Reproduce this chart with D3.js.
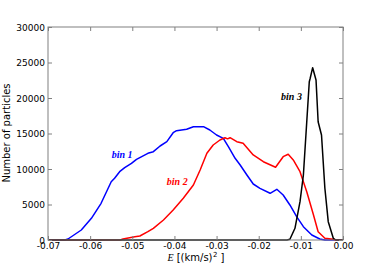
<!DOCTYPE html>
<html><head><meta charset="utf-8">
<script src="https://cdn.jsdelivr.net/npm/d3@7"></script>
<style>body{margin:0;background:#fff}svg{display:block}</style>
</head><body>
<svg id="c" width="382" height="267"></svg>
<script>
const xTicks = [-0.07,-0.06,-0.05,-0.04,-0.03,-0.02,-0.01,0.00];
const yTicks = [0,5000,10000,15000,20000,25000,30000];
const bin1E = [-0.070,-0.0660,-0.06525,-0.0621,-0.0597,-0.0574,-0.0550,-0.0542,-0.0530,-0.0518,-0.0502,-0.0490,-0.0463,-0.0450,-0.0434,-0.0418,-0.0403,-0.0395,-0.0371,-0.0355,-0.0331,-0.0316,-0.0300,-0.0284,-0.0272,-0.0256,-0.0244,-0.0228,-0.0213,-0.0197,-0.0173,-0.0157,-0.0142,-0.0126,-0.0110,-0.0094,-0.0074,-0.0055,-0.0043,0.0];
const bin1N = [0,0,141,1408,3056,5169,8204,8690,9620,10183,10803,11366,12211,12437,13240,13846,15113,15395,15592,15958,15958,15494,14789,14324,13141,11507,10564,9155,7888,7282,6578,7141,6338,4930,3282,1873,704,141,0,0];
const bin2E = [-0.070,-0.0529,-0.0522,-0.0494,-0.0482,-0.0463,-0.0450,-0.0426,-0.0403,-0.0379,-0.0355,-0.0339,-0.0323,-0.0308,-0.0292,-0.0280,-0.0274,-0.0268,-0.0252,-0.0237,-0.0213,-0.0189,-0.0160,-0.0142,-0.0130,-0.0118,-0.0102,-0.0086,-0.0070,-0.0059,-0.0043,-0.0023,-0.0017,0.0];
const bin2N = [0,0,141,465,563,1169,1648,2817,4225,5873,7747,9859,12212,13381,14085,14409,14250,14409,13846,13620,11972,11029,10240,11733,12071,11268,9620,6803,3521,1169,239,99,0,0];
const bin3E = [-0.070,-0.0133,-0.0126,-0.0114,-0.0102,-0.0094,-0.0086,-0.0080,-0.0078,-0.0072,-0.0064,-0.0059,-0.0051,-0.0043,-0.0035,-0.0023,-0.0017,0.0];
const bin3N = [0,0,99,1648,5394,9155,16663,22297,22750,24270,22536,16663,14789,7282,2578,239,0,0];
const seriesNames = ["bin 1","bin 2","bin 3"];
const seriesColors = ["#0000ff","#ff0000","#000000"];

const svg = d3.select("#c");
const L=48,R=343,T=27,B=240;
const x = d3.scaleLinear().domain([-0.07,0]).range([L,R]);
const y = d3.scaleLinear().domain([0,30000]).range([B,T]);
const gray="#808080";

const series=[[bin1E,bin1N],[bin2E,bin2N],[bin3E,bin3N]];
const line=d3.line().x(d=>x(d[0])).y(d=>y(d[1]));
series.forEach((s,i)=>{
  const pts=s[0].map((e,j)=>[e,s[1][j]]);
  svg.append("path").attr("d",line(pts)).attr("fill","none")
    .attr("stroke",seriesColors[i]).attr("stroke-width",1.5).attr("stroke-linejoin","round");
});

// frame
svg.append("rect").attr("x",L).attr("y",T).attr("width",R-L).attr("height",B-T)
  .attr("fill","none").attr("stroke",gray).attr("stroke-width",1);

// axes with inward ticks
const fmtX = d=> d===0 ? "0.00" : d.toFixed(2);
const xa = svg.append("g").attr("transform",`translate(0,${B})`)
  .call(d3.axisBottom(x).tickValues(xTicks).tickSize(-4).tickPadding(3).tickFormat(fmtX));
const xt = svg.append("g").attr("transform",`translate(0,${T})`)
  .call(d3.axisTop(x).tickValues(xTicks).tickSize(-4).tickFormat(""));
const ya = svg.append("g").attr("transform",`translate(${L},0)`)
  .call(d3.axisLeft(y).tickValues(yTicks).tickSize(-4).tickPadding(3).tickFormat(d3.format("d")));
const yr = svg.append("g").attr("transform",`translate(${R},0)`)
  .call(d3.axisRight(y).tickValues(yTicks).tickSize(-4).tickFormat(""));
[xa,xt,ya,yr].forEach(g=>{
  g.select(".domain").remove();
  g.selectAll(".tick line").attr("stroke",gray);
  g.selectAll("text").attr("font-family","DejaVu Sans").attr("font-size",9).attr("fill","#000");
});
ya.selectAll("text").attr("dy","0.35em");

// axis labels
svg.append("text").attr("transform","translate(10,133) rotate(-90)")
  .attr("text-anchor","middle").attr("font-family","DejaVu Sans").attr("font-size",10)
  .text("Number of particles");
// x label built from pieces placed side by side
const parts=[
  {t:"E",ff:"Liberation Serif",fs:10,st:"italic",dy:0,gap:3},
  {t:"[(km/s)",ff:"DejaVu Sans",fs:10,st:"normal",dy:0,gap:0.5},
  {t:"2",ff:"DejaVu Sans",fs:7,st:"normal",dy:-4,gap:3},
  {t:"]",ff:"DejaVu Sans",fs:10,st:"normal",dy:0,gap:0}
];
const nodes=parts.map(p=>svg.append("text").attr("y",261+p.dy)
  .attr("font-family",p.ff).attr("font-size",p.fs).attr("font-style",p.st).text(p.t));
const widths=nodes.map(n=>n.node().getComputedTextLength());
let cx=196-(d3.sum(widths)+d3.sum(parts,p=>p.gap))/2;
nodes.forEach((n,i)=>{n.attr("x",cx);cx+=widths[i]+parts[i].gap;});

// series labels
const labelPos=[[-0.0549,12000],[-0.0418,8300],[-0.0147,20200]];
seriesNames.forEach((n,i)=>{
  svg.append("text").attr("x",x(labelPos[i][0])).attr("y",y(labelPos[i][1]))
    .attr("font-family","Liberation Serif").attr("font-style","italic").attr("font-weight","bold")
    .attr("font-size",10).attr("fill",seriesColors[i]).attr("dy","0.35em").text(n);
});
</script>
</body></html>
